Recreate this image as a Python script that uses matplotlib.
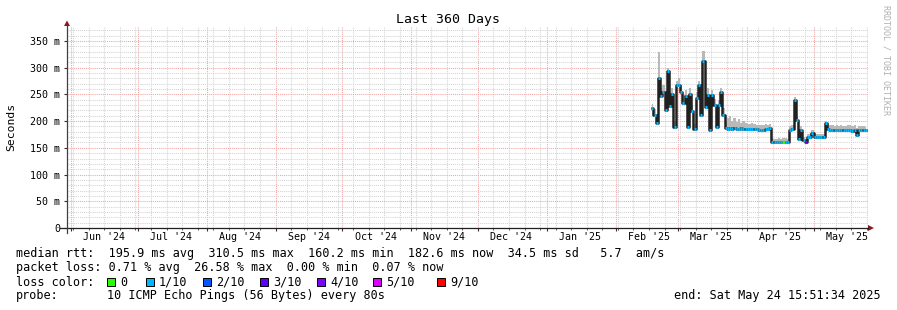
import numpy as np
import pandas as pd
import matplotlib
matplotlib.use("Agg")
from matplotlib import pyplot as plt
import matplotlib.dates as mdates
import matplotlib.transforms as mtransforms
from matplotlib.ticker import MultipleLocator, FuncFormatter, NullFormatter
from matplotlib.lines import Line2D
from matplotlib.patches import Rectangle, Polygon

plt.rcParams['font.family'] = ['DejaVu Sans Mono']

# ============================================================
# data : one consolidated value per day (Feb 17 - May 24 2025)
# ============================================================
days = pd.date_range("2025-02-17 12:00", "2025-05-24 12:00", freq="D")

# median rtt in ms
median_feb = [224, 212, 196, 280, 247, 255, 220, 294, 228, 250, 189, 267]
median_mar = [268, 255, 234, 247, 189, 250, 218, 185, 243, 268, 211, 312,
              227, 249, 183, 249, 230, 189, 230, 255, 211, 188, 186, 187,
              186, 187, 186, 186, 187, 186, 186]
median_apr = [186, 186, 186, 186, 185, 184, 184, 183, 185, 186, 187, 161,
              160, 160, 160, 160, 161, 160, 161, 184, 186, 240, 202, 166,
              184, 165, 160, 171, 170, 178]
median_may = [171, 170, 170, 171, 170, 196, 186, 184, 183, 184, 183, 183,
              184, 183, 183, 184, 183, 182, 183, 174, 183, 183, 184, 183]

# top of the smoke (slowest ping) in ms
smoke_feb = [232, 222, 205, 330, 262, 268, 232, 300, 240, 262, 200, 275]
smoke_mar = [280, 268, 248, 258, 198, 262, 230, 195, 255, 275, 222, 332,
             240, 262, 195, 258, 242, 200, 240, 262, 225, 198, 205, 210,
             200, 206, 198, 203, 197, 200, 196]
smoke_apr = [195, 194, 196, 194, 193, 192, 193, 192, 194, 193, 195, 168,
             167, 166, 168, 167, 169, 168, 166, 190, 192, 245, 208, 172,
             190, 171, 165, 176, 175, 183]
smoke_may = [176, 175, 175, 176, 175, 200, 194, 192, 193, 190, 192, 190,
             193, 191, 190, 192, 193, 190, 192, 188, 190, 191, 190, 189]

# loss bucket per day (index into loss_colors)
loss_feb = [1, 1, 1, 1, 1, 1, 1, 1, 1, 1, 1, 1]
loss_mar = [1, 1, 1, 1, 1, 1, 1, 1, 1, 1, 1, 1, 1, 1, 1, 1, 1, 1, 1, 1,
            1, 1, 1, 1, 1, 1, 1, 1, 1, 1, 1]
loss_apr = [1, 1, 1, 1, 1, 1, 1, 1, 1, 1, 1, 1, 1, 1, 1, 1, 0, 1, 1, 1,
            1, 1, 1, 1, 1, 1, 4, 1, 1, 1]
loss_may = [1, 1, 1, 1, 1, 1, 1, 1, 1, 1, 1, 1, 1, 1, 1, 1, 1, 1, 1, 1,
            1, 1, 1, 1]

median_ms = np.array(median_feb + median_mar + median_apr + median_may)
smoke_ms = np.array(smoke_feb + smoke_mar + smoke_apr + smoke_may)
loss_idx = loss_feb + loss_mar + loss_apr + loss_may

loss_labels = ["0", "1/10", "2/10", "3/10", "4/10", "5/10", "9/10"]
loss_colors = ["#26ff00", "#00b8ff", "#0059ff", "#5e00ff", "#7e00ff", "#dd00ff", "#ff0000"]

month_starts = pd.date_range("2024-06-01", "2025-05-01", freq="MS")
month_labels = ["Jun '24", "Jul '24", "Aug '24", "Sep '24", "Oct '24", "Nov '24",
                "Dec '24", "Jan '25", "Feb '25", "Mar '25", "Apr '25", "May '25"]

stats_line = "median rtt:  195.9 ms avg  310.5 ms max  160.2 ms min  182.6 ms now  34.5 ms sd   5.7  am/s"
loss_line = "packet loss: 0.71 % avg  26.58 % max  0.00 % min  0.07 % now"
probe_text = "10 ICMP Echo Pings (56 Bytes) every 80s"
end_text = "end: Sat May 24 15:51:34 2025"

# ============================================================
# figure / axes (pixel layout of the rrdtool image)
# ============================================================
W, H = 897, 310
fig = plt.figure(figsize=(W / 100, H / 100), dpi=100)
fig.patch.set_facecolor("white")


def fx(x):
    return x / W


def fy(y):
    return 1 - y / H


L, R, T, B = 67, 868, 27, 228
ax = fig.add_axes([fx(L), fy(B), (R - L) / W, (B - T) / H])
ax.set_facecolor("white")
for sp in ax.spines.values():
    sp.set_visible(False)

ax.set_xlim(mdates.date2num(pd.Timestamp("2024-05-30 04:48")),
            mdates.date2num(pd.Timestamp("2025-05-25 12:15")))
ax.set_ylim(0, 376)

# grid
ax.xaxis.set_major_locator(mdates.MonthLocator())
ax.xaxis.set_minor_locator(mdates.WeekdayLocator(byweekday=mdates.SU))
ax.xaxis.set_major_formatter(NullFormatter())
ax.yaxis.set_major_locator(MultipleLocator(50))
ax.yaxis.set_minor_locator(MultipleLocator(10))
ax.yaxis.set_major_formatter(FuncFormatter(lambda v, p: "0" if v == 0 else "%d m" % v))
ax.set_axisbelow(True)
ax.grid(which="minor", color="#d4d4d4", ls=(0, (1, 1)), lw=0.75)
ax.grid(which="major", color="#f2a4a4", ls=(0, (1, 1)), lw=0.75)

ax.tick_params(axis="y", which="major", length=2.2, width=0.8, color="#333333",
               pad=2.9, labelsize=7.2, labelcolor="black")
ax.tick_params(axis="y", which="minor", length=0)
ax.tick_params(axis="x", which="major", length=2.2, width=0.8, color="#333333")
ax.tick_params(axis="x", which="minor", length=1.4, width=0.7, color="#555555")

# month labels, centred half a month after each month start
trans = mtransforms.blended_transform_factory(ax.transData, fig.transFigure)
for m, lab in zip(month_starts, month_labels):
    ax.text(mdates.date2num(m + pd.Timedelta(days=15)), fy(237.5), lab, transform=trans,
            ha="center", va="center", fontsize=7.2)

# ============================================================
# smoke + median line coloured by loss
# ============================================================
x = mdates.date2num(days)
ax.fill_between(x, median_ms, smoke_ms, step="mid", color="#b9b9b9", lw=0)
ax.step(x, median_ms, where="mid", color="#202020", lw=1.8)
ax.hlines(median_ms, x - 0.45, x + 0.45, colors=[loss_colors[k] for k in loss_idx], lw=2.2)

# axis lines and arrows
fig.add_artist(Line2D([fx(60), fx(868)], [fy(228), fy(228)], transform=fig.transFigure,
                      color="#202020", lw=0.9))
fig.add_artist(Line2D([fx(67), fx(67)], [fy(233), fy(26)], transform=fig.transFigure,
                      color="#404040", lw=0.9))
fig.add_artist(Polygon([[fx(64), fy(26)], [fx(70), fy(26)], [fx(67), fy(20.5)]],
                       closed=True, transform=fig.transFigure, color="#8b1a1a", lw=0))
fig.add_artist(Polygon([[fx(868), fy(225)], [fx(868), fy(231)], [fx(874), fy(228)]],
                       closed=True, transform=fig.transFigure, color="#8b1a1a", lw=0))

# ============================================================
# texts
# ============================================================
fig.text(fx(448), fy(19), "Last 360 Days", ha="center", va="center", fontsize=9.5)
fig.text(fx(11), fy(127), "Seconds", ha="center", va="center", rotation=90, fontsize=8.2)
fig.text(fx(886), fy(60), "RRDTOOL / TOBI OETIKER", ha="center", va="center",
         rotation=270, fontsize=6, color="#b0b0b0")

fig.text(fx(16), fy(254), stats_line, ha="left", va="center", fontsize=8.45)
fig.text(fx(16), fy(268), loss_line, ha="left", va="center", fontsize=8.45)
fig.text(fx(16), fy(282), "loss color:", ha="left", va="center", fontsize=8.45)
box_x = [107, 146, 203, 260, 317, 373, 437]
for bx, lab, col in zip(box_x, loss_labels, loss_colors):
    fig.add_artist(Rectangle((fx(bx), fy(286)), 8 / W, 8 / H, transform=fig.transFigure,
                             facecolor=col, edgecolor="black", lw=0.7))
    fig.text(fx(bx + 13), fy(282), lab, ha="left", va="center", fontsize=8.45)
fig.text(fx(16), fy(296), "probe:", ha="left", va="center", fontsize=8.45)
fig.text(fx(107), fy(296), probe_text, ha="left", va="center", fontsize=8.45)
fig.text(fx(881), fy(296), end_text, ha="right", va="center", fontsize=8.45)

plt.savefig("out.png", dpi=100, facecolor="white")
